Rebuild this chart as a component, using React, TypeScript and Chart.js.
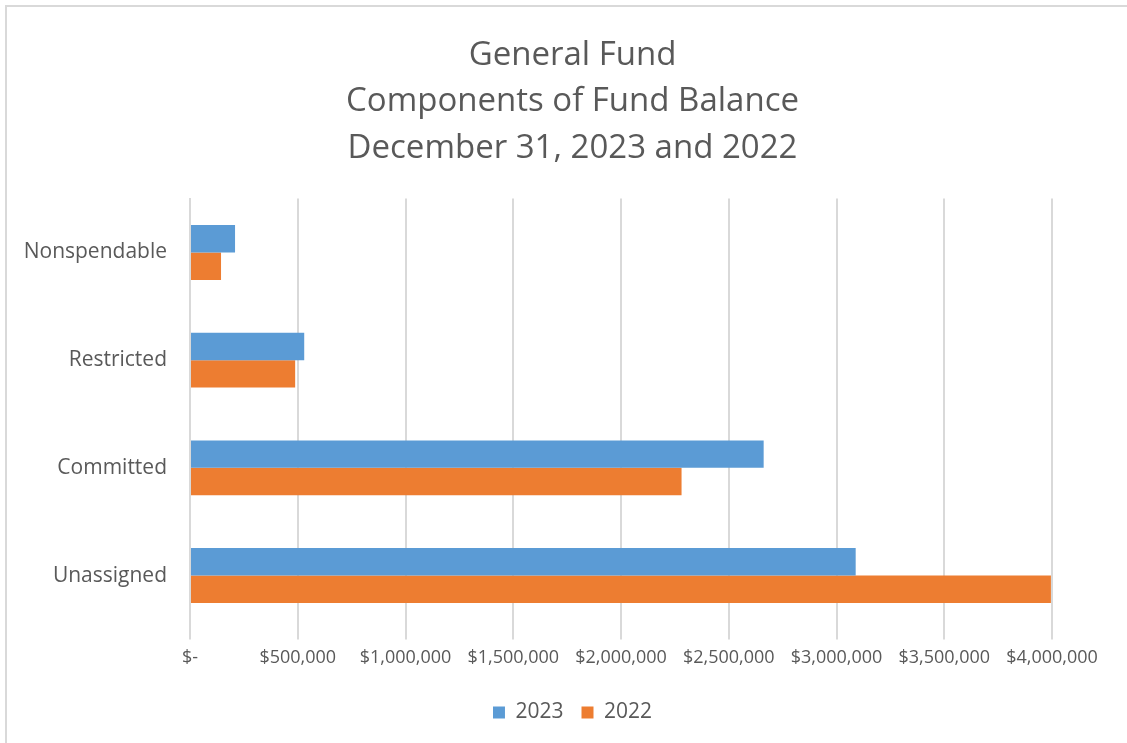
import React, { useEffect, useRef } from "react";
import { Chart, registerables } from "chart.js";

Chart.register(...registerables);

const categories = ["Nonspendable", "Restricted", "Committed", "Unassigned"];
const values2023 = [209000, 530000, 2662000, 3089000];
const values2022 = [144000, 488000, 2281000, 3995000];
const seriesNames = ["2023", "2022"];
const titleLines = ["General Fund", "Components of Fund Balance", "December 31, 2023 and 2022"];

const GRAY = "#595959";
const GRID = "#d9d9d9";

export default function App() {
  const ref = useRef<HTMLCanvasElement | null>(null);
  useEffect(() => {
    if (!ref.current) return;
    const chart = new Chart(ref.current, {
      type: "bar",
      data: {
        labels: categories,
        datasets: [
          { label: seriesNames[0], data: values2023, backgroundColor: "#5B9BD5", borderWidth: 0, categoryPercentage: 0.51, barPercentage: 1.0 },
          { label: seriesNames[1], data: values2022, backgroundColor: "#ED7D31", borderWidth: 0, categoryPercentage: 0.51, barPercentage: 1.0 },
        ],
      },
      options: {
        indexAxis: "y",
        animation: false,
        responsive: true,
        maintainAspectRatio: false,
        layout: { padding: { left: 18, right: 0, top: 32, bottom: 10 } },
        plugins: {
          title: {
            display: true,
            text: titleLines,
            color: GRAY,
            font: { family: "Open Sans", size: 33, weight: "normal", lineHeight: 1.41 },
            padding: { top: 0, bottom: 27 },
          },
          legend: {
            position: "bottom",
            labels: {
              color: GRAY,
              font: { family: "Open Sans", size: 21 },
              boxWidth: 12,
              boxHeight: 12,
              padding: 18,
            },
          },
          tooltip: { enabled: false },
        },
        scales: {
          x: {
            min: 0,
            max: 4000000,
            afterFit: (scale: any) => {
              scale.height += 7;
              scale.paddingRight = 75;
            },
            ticks: {
              stepSize: 500000,
              color: GRAY,
              font: { family: "Open Sans", size: 18 },
              padding: 8,
              maxRotation: 0,
              callback: (v: any) => (Number(v) === 0 ? "$-" : "$" + Number(v).toLocaleString("en-US")),
            },
            grid: { color: GRID, lineWidth: 2, tickLength: 10, drawTicks: true },
            border: { display: false },
          },
          y: {
            afterFit: (scale: any) => {
              scale.width = 172;
            },
            ticks: { color: GRAY, font: { family: "Open Sans", size: 21 }, padding: 15 },
            grid: { display: false },
            border: { display: true, color: GRID, width: 2 },
          },
        },
      },
    });
    return () => chart.destroy();
  }, []);
  return (
    <div style={{ position: "absolute", left: 0, top: 0, width: 1127, height: 743, background: "#fff" }}>
      <div style={{ position: "absolute", left: 5, top: 5, right: 0, bottom: 0, borderTop: "2px solid #d9d9d9", borderLeft: "2px solid #d9d9d9" }} />
      <canvas ref={ref} style={{ position: "absolute", left: 0, top: 0 }} />
    </div>
  );
}
